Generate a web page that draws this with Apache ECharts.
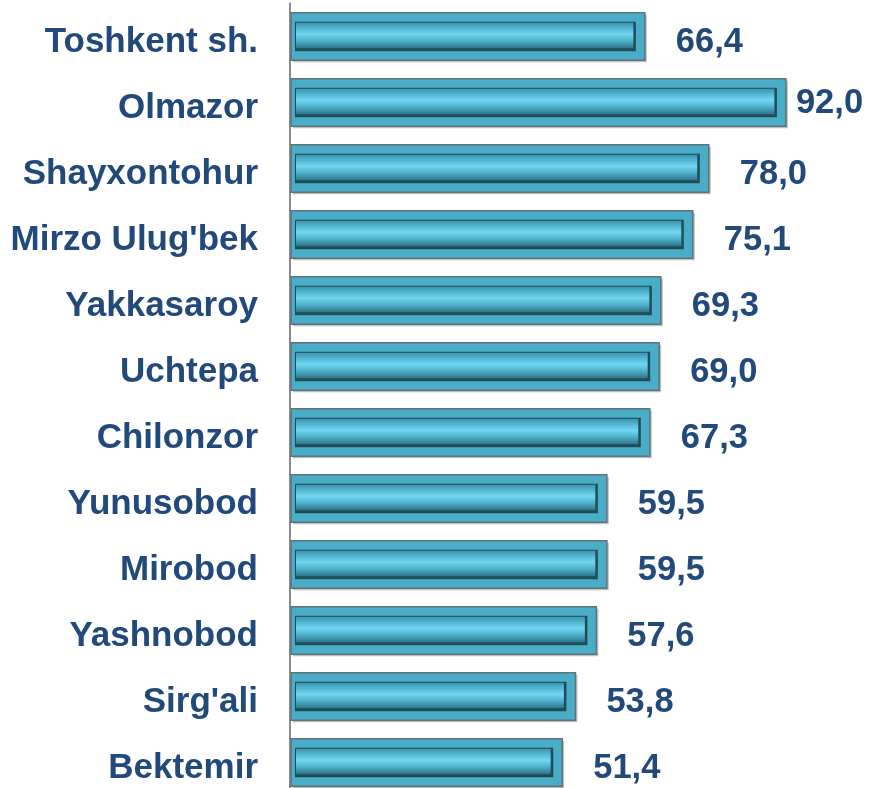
<!DOCTYPE html>
<html><head><meta charset="utf-8">
<script src="https://cdn.jsdelivr.net/npm/echarts@6/dist/echarts.min.js"></script>
<style>html,body{margin:0;padding:0;background:#fff}#c{width:869px;height:788px}</style>
</head><body><div id="c"></div>
<script>
const categories = ["Toshkent sh.","Olmazor","Shayxontohur","Mirzo Ulug'bek","Yakkasaroy","Uchtepa","Chilonzor","Yunusobod","Mirobod","Yashnobod","Sirg'ali","Bektemir"];
const values = [66.4,92.0,78.0,75.1,69.3,69.0,67.3,59.5,59.5,57.6,53.8,51.4];

const TEXT = '#21497A';
const FAMILY = '"Liberation Sans", Arial, sans-serif';
const FONT = 'bold 34.5px ' + FAMILY;
const maxV = Math.max(...values);

const chart = echarts.init(document.getElementById('c'), null, {renderer:'canvas'});
chart.setOption({
  animation:false,
  grid:{left:290, top:3.5, width:540, height:792, outerBoundsMode:'none', containLabel:false},
  xAxis:{type:'value', min:2, max:100, show:false},
  yAxis:{type:'category', data:categories, inverse:true,
    axisLine:{show:true, lineStyle:{color:'#8c8c8c', width:2}},
    axisTick:{show:false},
    axisLabel:{color:TEXT, fontWeight:'bold', fontSize:35, fontFamily:FAMILY, margin:32,
      formatter:function(v){return '{a|'+v+'}';},
      rich:{a:{color:TEXT, fontWeight:'bold', fontSize:35, fontFamily:FAMILY, padding:[12,0,0,0]}}}
  },
  series:[{
    type:'custom',
    data: values.map((v,i)=>[v,i]),
    encode:{x:0,y:1},
    renderItem:function(params, api){
      const v = api.value(0), idx = api.value(1);
      const s = api.coord([2, idx]), e = api.coord([v, idx]);
      const band = api.size([0,1])[1];
      const h = band*0.72;
      const x0 = s[0]+1, x1 = e[0], yc = s[1];
      const top = yc - h/2;
      const w = x1 - x0;
      const ih = h - 20, itop = top + 10, ix = x0 + 5, iw = w - 15;
      const label = v.toFixed(1).replace('.', ',');
      const isMax = (v === maxV);
      const dist = isMax ? 10 : 31;
      const dy = isMax ? 1 : 6;
      return {type:'group', children:[
        {type:'rect', shape:{x:x0+2, y:top+2, width:w, height:h}, style:{fill:'rgba(0,0,0,0.25)'}},
        {type:'rect', shape:{x:x0, y:top, width:w, height:h}, style:{fill:'#4AADC7', stroke:'#5f7378', lineWidth:1.5}},
        {type:'rect', shape:{x:ix-1, y:itop-1, width:iw+2, height:ih+2}, style:{fill:'#1f4c59'}},
        {type:'rect', shape:{x:ix, y:itop, width:iw-1.5, height:ih-2}, style:{
          fill:new echarts.graphic.LinearGradient(0,0,0,1,[
            {offset:0, color:'#3d93aa'},
            {offset:0.2, color:'#4fb5d0'},
            {offset:0.45, color:'#72d6f2'},
            {offset:0.7, color:'#4fb3cd'},
            {offset:1, color:'#2f7489'}
          ])}},
        {type:'text', style:{x:x1+dist, y:yc+dy, text:label, font:FONT, fill:TEXT, align:'left', verticalAlign:'middle'}}
      ]};
    }
  }]
});
</script></body></html>
